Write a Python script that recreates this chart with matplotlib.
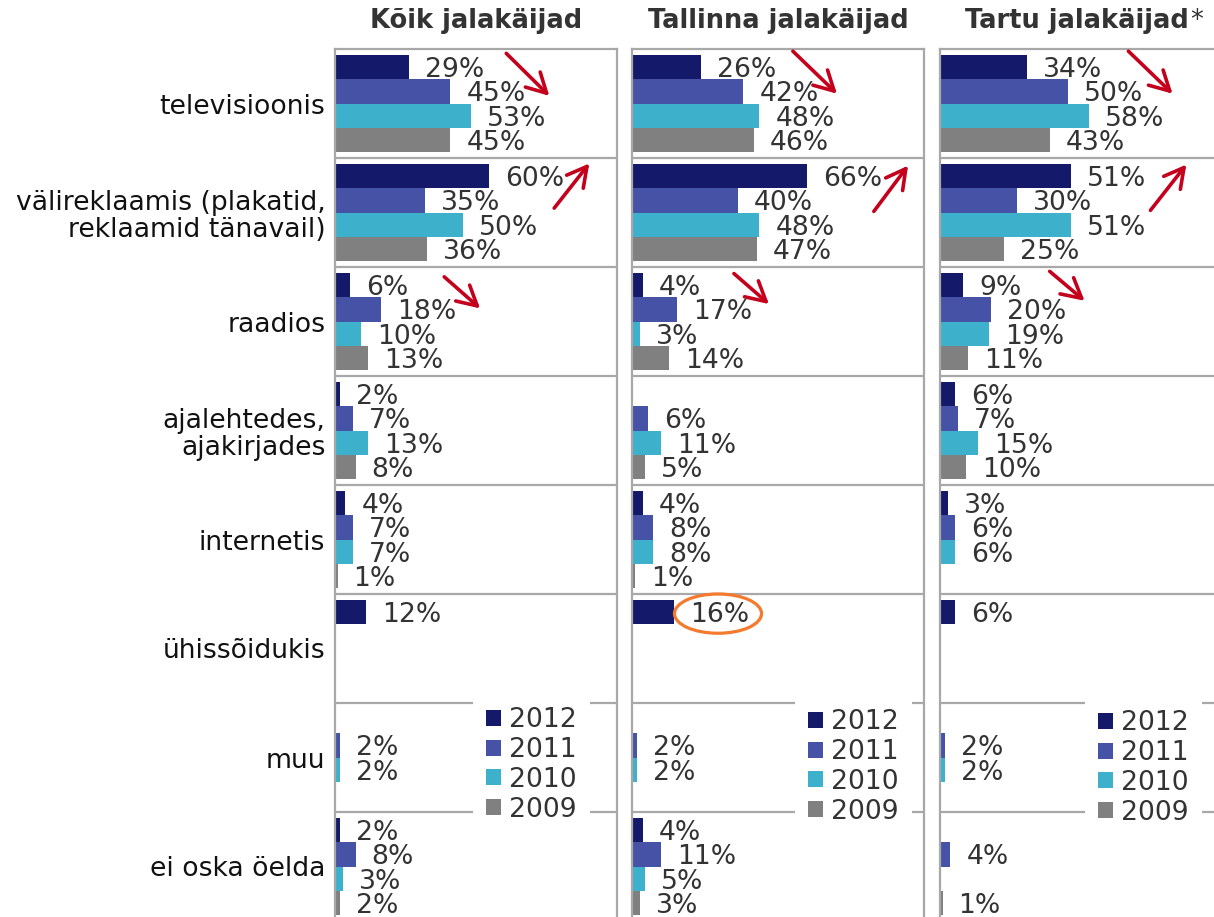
import matplotlib
matplotlib.use('Agg')
import matplotlib.pyplot as plt
import numpy as np
from matplotlib.patches import Patch, Ellipse

# ---------------- data ----------------
categories = ['televisioonis', 'välireklaamis (plakatid,\nreklaamid tänavail)', 'raadios',
              'ajalehtedes,\najakirjades', 'internetis', 'ühissõidukis', 'muu', 'ei oska öelda']
years = ['2012', '2011', '2010', '2009']
panel_titles = ['Kõik jalakäijad', 'Tallinna jalakäijad', 'Tartu jalakäijad']
N = None

koik_2012 = [29, 60, 6, 2, 4, 12, N, 2]
koik_2011 = [45, 35, 18, 7, 7, N, 2, 8]
koik_2010 = [53, 50, 10, 13, 7, N, 2, 3]
koik_2009 = [45, 36, 13, 8, 1, N, N, 2]

tallinn_2012 = [26, 66, 4, N, 4, 16, N, 4]
tallinn_2011 = [42, 40, 17, 6, 8, N, 2, 11]
tallinn_2010 = [48, 48, 3, 11, 8, N, 2, 5]
tallinn_2009 = [46, 47, 14, 5, 1, N, N, 3]

tartu_2012 = [34, 51, 9, 6, 3, 6, N, N]
tartu_2011 = [50, 30, 20, 7, 6, N, 2, 4]
tartu_2010 = [58, 51, 19, 15, 6, N, 2, N]
tartu_2009 = [43, 25, 11, 10, N, N, N, 1]

panels = [
    [koik_2012, koik_2011, koik_2010, koik_2009],
    [tallinn_2012, tallinn_2011, tallinn_2010, tallinn_2009],
    [tartu_2012, tartu_2011, tartu_2010, tartu_2009],
]

colors = ['#141A69', '#4652A5', '#3DB1CC', '#808080']
label_color = '#333333'
grid_color = '#A8A8A8'
arrow_color = '#C4001C'

# ---------------- figure ----------------
W, H = 1214, 917
fig = plt.figure(figsize=(W / 100, H / 100), dpi=100)
plt.rcParams['font.family'] = ['DejaVu Sans']
FS = 19.2
FT = 18.5

# panel pixel geometry: (left, width)
geo = [(335, 282), (632, 292), (940, 282)]
top_px, bottom_px = 49, 921
axes = []
for (lx, wd) in geo:
    ax = fig.add_axes([lx / W, (H - bottom_px) / H, wd / W, (bottom_px - top_px) / H])
    axes.append(ax)

n = len(categories)
bh = 0.222
offsets = [(k - 1.5) * bh for k in range(4)]

for pi, ax in enumerate(axes):
    ax.set_xlim(0, 110)
    ax.set_ylim(n, 0)
    for s in ax.spines.values():
        s.set_color(grid_color)
        s.set_linewidth(1.6)
    for r in range(1, n):
        ax.axhline(r, color=grid_color, lw=1.6, zorder=1)
    series = panels[pi]
    for k, vals in enumerate(series):
        for i, v in enumerate(vals):
            if v is None:
                continue
            yc = i + 0.5 + offsets[k]
            ax.barh(yc, v, height=bh, color=colors[k], zorder=2, edgecolor='none')
            ax.annotate(f'{v}%', xy=(v, yc), xytext=(16, -3), textcoords='offset pixels',
                        ha='left', va='center', fontsize=FS, color=label_color, zorder=4)
    ax.set_xticks([])
    ax.tick_params(axis='y', length=0, pad=7)
    if pi == 0:
        ax.set_yticks(np.arange(n) + 0.5)
        ax.set_yticklabels(categories, fontsize=FS, color='#111111', linespacing=1.05)
    else:
        ax.set_yticks([])

# titles
ty = 1 - 21 / H
for pi, (lx, wd) in enumerate(geo[:2]):
    fig.text((lx + wd / 2) / W, ty, panel_titles[pi], ha='center', va='center',
             fontsize=FT, fontweight='bold', color='#333333')
t3 = fig.text(1077 / W, ty, panel_titles[2], ha='center', va='center',
              fontsize=FT, fontweight='bold', color='#333333')
axes[2].annotate('*', xy=(1, 0.5), xycoords=t3, xytext=(1, 0), textcoords='offset pixels',
                 ha='left', va='center', fontsize=FT, color='#333333', annotation_clip=False)

# legends
handles = [Patch(facecolor=c, edgecolor='none') for c in colors]
leg_pos = [(486, 694), (808, 696), (1098, 697)]
for ax, (hx, hy) in zip(axes, leg_pos):
    leg = ax.legend(handles, years, loc='upper left',
                    bbox_to_anchor=((hx - 13) / W, 1 - hy / H), bbox_transform=fig.transFigure,
                    frameon=True, fancybox=False, framealpha=1, edgecolor='none', facecolor='white',
                    fontsize=FS, handlelength=0.56, handleheight=0.56, handletextpad=0.3,
                    labelspacing=0.14, borderpad=0.5, borderaxespad=0)
    for t in leg.get_texts():
        t.set_color(label_color)
    leg.set_zorder(6)

# trend arrows (tail -> tip, in data coordinates of each panel)
arrows = [
    [((66.8, 0.04), (83.6, 0.43)), ((85.5, 1.46), (99.2, 1.05)), ((42.6, 2.09), (56.6, 2.38))],
    [((60.6, 0.02), (77.2, 0.41)), ((91.1, 1.49), (104.0, 1.07)), ((38.4, 2.06), (51.6, 2.34))],
    [((73.5, 0.02), (90.7, 0.41)), ((82.1, 1.48), (96.1, 1.06)), ((42.8, 2.04), (56.4, 2.31))],
]
for ax, arrs in zip(axes, arrows):
    for tail, tip in arrs:
        ax.annotate('', xy=tip, xytext=tail,
                    arrowprops=dict(arrowstyle='->,head_length=0.7,head_width=0.38',
                                    color=arrow_color, lw=2.6, shrinkA=0, shrinkB=0,
                                    mutation_scale=20),
                    annotation_clip=False, zorder=5)

# highlight ellipse around Tallinn ühissõidukis
axes[1].add_patch(Ellipse((32.4, 5.18), width=32.8, height=0.36, fill=False,
                          edgecolor='#F47A2E', lw=2.3, zorder=5))

fig.savefig('out.png', dpi=100)
